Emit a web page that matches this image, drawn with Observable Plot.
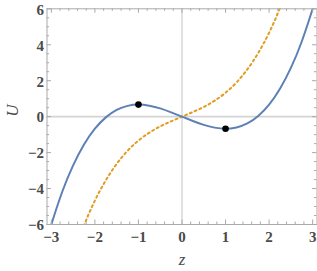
<!DOCTYPE html>
<html>
<head>
<meta charset="utf-8">
<script src="https://cdn.jsdelivr.net/npm/d3@7"></script>
<script src="https://cdn.jsdelivr.net/npm/@observablehq/plot@0.6"></script>
<style>
  html, body { margin: 0; padding: 0; background: #fff; }
  #chart svg { display: block; }
</style>
</head>
<body>
<div id="chart"></div>
<script>
// z values sampled along the curves
const zValues = [-3.1, -3, -2.75, -2.5, -2.25, -2, -1.75, -1.5, -1.25, -1, -0.75, -0.5, -0.25, 0,
                 0.25, 0.5, 0.75, 1, 1.25, 1.5, 1.75, 2, 2.25, 2.5, 2.75, 3, 3.1];
// solid blue curve U(z)
const blueU = [-6.83, -6.0, -4.18, -2.71, -1.55, -0.67, -0.04, 0.38, 0.6, 0.67, 0.61, 0.46, 0.24, 0,
               -0.24, -0.46, -0.61, -0.67, -0.6, -0.38, 0.04, 0.67, 1.55, 2.71, 4.18, 6.0, 6.83];
// dotted orange curve U(z)
const orangeU = [-13.03, -12.0, -9.68, -7.71, -6.05, -4.67, -3.54, -2.63, -1.9, -1.33, -0.89, -0.54, -0.26, 0,
                 0.26, 0.54, 0.89, 1.33, 1.9, 2.63, 3.54, 4.67, 6.05, 7.71, 9.68, 12.0, 13.03];
// marked extrema
const pointZ = [-1, 1];
const pointU = [0.67, -0.67];
// ticks
const xTicks = [-3, -2, -1, 0, 1, 2, 3];
const yTicks = [-6, -4, -2, 0, 2, 4, 6];
const xLabel = "z";
const yLabel = "U";

const blueData = zValues.map((z, i) => ({z, u: blueU[i]}));
const orangeData = zValues.map((z, i) => ({z, u: orangeU[i]}));
const pointData = pointZ.map((z, i) => ({z, u: pointU[i]}));
const xMinor = d3.range(-30, 31, 2).map(v => v / 10).filter(v => Math.abs(v - Math.round(v)) > 1e-9);
const yMinor = d3.range(-12, 13).map(v => v / 2).filter(v => !yTicks.includes(v));

const W = 317, H = 271;
const mL = 46.5, mR = 0.5, mT = 8.3, mB = 47;
const pw = W - mL - mR, ph = H - mT - mB;
const gray = "#aaa";
const labelColor = "#4a4a4a";
const font = "Liberation Serif";

const fmt = d => d < 0 ? "\u2212" + Math.abs(d) : String(d);

const chart = Plot.plot({
  width: W,
  height: H,
  marginLeft: mL,
  marginRight: mR,
  marginTop: mT,
  marginBottom: mB,
  style: {background: "#fff"},
  x: {domain: [-3.1, 3.1]},
  y: {domain: [-6, 6]},
  marks: [
    // zero lines
    Plot.ruleY([0], {stroke: "#d4d4d4", strokeWidth: 1.6}),
    Plot.ruleX([0], {stroke: "#c4c4c4", strokeWidth: 1}),
    // curves
    Plot.line(orangeData, {x: "z", y: "u", stroke: "#E19C24", strokeWidth: 2, strokeDasharray: "2,3.2", curve: "natural", clip: true}),
    Plot.line(blueData, {x: "z", y: "u", stroke: "#5E81B5", strokeWidth: 2, curve: "natural", clip: true}),
    Plot.dot(pointData, {x: "z", y: "u", r: 3.3, fill: "black", stroke: "none"}),
    // frame
    Plot.frame({stroke: gray, strokeWidth: 1}),
    // ticks x (bottom & top)
    Plot.tickX(xTicks, {x: d => d, stroke: gray, insetTop: ph - 4.5}),
    Plot.tickX(xTicks, {x: d => d, stroke: gray, insetBottom: ph - 4.5}),
    Plot.tickX(xMinor, {x: d => d, stroke: gray, insetTop: ph - 2.5}),
    Plot.tickX(xMinor, {x: d => d, stroke: gray, insetBottom: ph - 2.5}),
    // ticks y (left & right)
    Plot.tickY(yTicks, {y: d => d, stroke: gray, insetRight: pw - 4.5}),
    Plot.tickY(yTicks, {y: d => d, stroke: gray, insetLeft: pw - 4.5}),
    Plot.tickY(yMinor, {y: d => d, stroke: gray, insetRight: pw - 2.5}),
    Plot.tickY(yMinor, {y: d => d, stroke: gray, insetLeft: pw - 2.5}),
    // tick labels
    Plot.axisX(xTicks, {tickSize: 0, tickPadding: 7, fontSize: 15, fontWeight: "bold", fill: labelColor, label: null,
      fontFamily: font, tickFormat: fmt}),
    Plot.axisY(yTicks, {tickSize: 0, tickPadding: 3, dy: 1, fontSize: 15, fontWeight: "bold", fill: labelColor, label: null,
      fontFamily: font, tickFormat: fmt}),
    // axis titles
    Plot.text([xLabel], {frameAnchor: "bottom", dy: 40, text: d => d, fontSize: 17, fontStyle: "italic", fontFamily: font, fill: labelColor}),
    Plot.text([yLabel], {frameAnchor: "left", dx: -34, rotate: -90, text: d => d, fontSize: 17, fontStyle: "italic", fontFamily: font, fill: labelColor})
  ]
});
document.getElementById("chart").appendChild(chart);
</script>
</body>
</html>
